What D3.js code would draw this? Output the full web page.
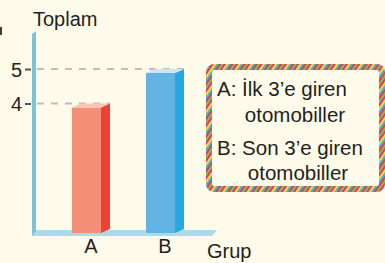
<!DOCTYPE html>
<html lang="tr">
<head>
<meta charset="UTF-8">
<title>Toplam - Grup</title>
<script src="https://d3js.org/d3.v7.min.js"></script>
<style>
  html, body { margin: 0; padding: 0; background: #fffbea; }
  svg text { font-family: "Liberation Sans", Arial, sans-serif; fill: #231f20; }
</style>
</head>
<body>
<svg width="385" height="263"></svg>
<script>
// veriler
const categories = ["A", "B"];
const values = [4, 5];
const yTicks = [4, 5];
const legendLines = ["A: İlk 3’e giren", "otomobiller", "B: Son 3’e giren", "otomobiller"];

const frontColors = ["#f48f78", "#63b3e3"];
const sideColors = ["#ee4035", "#25a8e0"];
const topColors = ["#f9c6b8", "#cde6f5"];

const svg = d3.select("svg");
const baseY = 233;

const x = d3.scaleBand().domain(categories).range([72, 175]).paddingInner(0.608).paddingOuter(0);
const y = d3.scaleLinear().domain([0, 5]).range([241.5, 69]);
const depthX = 9, depthY = 4;

// stray glyph stroke at the left edge (from cropped page)
svg.append("rect").attr("x", 0).attr("y", 27).attr("width", 2).attr("height", 8).attr("fill", "#3a3a3a");

// dashed guide lines
svg.append("g").selectAll("line")
  .data(yTicks)
  .join("line")
  .attr("x1", 37)
  .attr("x2", (d, i) => x(categories[i]) + x.bandwidth() + depthX)
  .attr("y1", d => y(d)).attr("y2", d => y(d))
  .attr("stroke", "#bdbdbd").attr("stroke-width", 2)
  .attr("stroke-dasharray", "7,7");

// y axis ticks
const yAxis = svg.append("g").attr("transform", "translate(31,0)")
  .call(d3.axisLeft(y).tickValues(yTicks).tickSize(6).tickPadding(3).tickFormat(d3.format("d")));
yAxis.select(".domain").remove();
yAxis.selectAll(".tick line").attr("stroke", "#555").attr("stroke-width", 2);
yAxis.selectAll(".tick text").style("font-size", "20px").attr("fill", "#231f20").attr("dy", "0.36em");

// axis bars (3D look)
svg.append("polygon")
  .attr("points", "32,236 36,230 217,230 212,236")
  .attr("fill", "#a9dbea");
svg.append("polygon")
  .attr("points", "32,34 36,31 36,231 32,236")
  .attr("fill", "#78c4db");

// bars
const bars = svg.append("g").selectAll("g")
  .data(values)
  .join("g");

bars.append("rect")
  .attr("x", (d, i) => x(categories[i]))
  .attr("y", d => y(d) + depthY)
  .attr("width", x.bandwidth())
  .attr("height", d => baseY - y(d) - depthY)
  .attr("fill", (d, i) => frontColors[i]);

bars.append("polygon")
  .attr("points", (d, i) => {
    const x1 = x(categories[i]) + x.bandwidth();
    const t = y(d);
    return [[x1, t + depthY], [x1 + depthX, t], [x1 + depthX, baseY - depthY], [x1, baseY]].join(" ");
  })
  .attr("fill", (d, i) => sideColors[i]);

bars.append("polygon")
  .attr("points", (d, i) => {
    const x0 = x(categories[i]);
    const x1 = x0 + x.bandwidth();
    const t = y(d);
    return [[x0, t + depthY], [x0 + depthX, t], [x1 + depthX, t], [x1, t + depthY]].join(" ");
  })
  .attr("fill", (d, i) => topColors[i]);

// category labels
svg.append("g").selectAll("text")
  .data(categories)
  .join("text")
  .attr("x", d => x(d) + (x.bandwidth() + depthX) / 2)
  .attr("y", 253)
  .attr("text-anchor", "middle")
  .style("font-size", "20px")
  .text(d => d);

// axis titles
svg.append("text").attr("x", 33).attr("y", 26).style("font-size", "20px").text("Toplam");
svg.append("text").attr("x", 207).attr("y", 258).style("font-size", "20px").text("Grup");

// legend box with colourful border
const defs = svg.append("defs");
const pat = defs.append("pattern")
  .attr("id", "confetti").attr("patternUnits", "userSpaceOnUse")
  .attr("width", 10).attr("height", 10)
  .attr("patternTransform", "rotate(35)");
const stripeColors = ["#ec2f8c", "#f7e51f", "#3fb5e6", "#e83a55", "#7cc244"];
stripeColors.forEach((c, i) => {
  pat.append("rect").attr("x", i * 2).attr("y", 0).attr("width", 2).attr("height", 10).attr("fill", c);
});

svg.append("rect")
  .attr("x", 209).attr("y", 67).attr("width", 173).attr("height", 122)
  .attr("rx", 5)
  .attr("fill", "#fffbea")
  .attr("stroke", "url(#confetti)").attr("stroke-width", 6);

const legendPos = [[217, 96, "start"], [295, 122, "middle"], [217, 155, "start"], [298, 180, "middle"]];
svg.append("g").selectAll("text")
  .data(legendLines)
  .join("text")
  .attr("x", (d, i) => legendPos[i][0])
  .attr("y", (d, i) => legendPos[i][1])
  .attr("text-anchor", (d, i) => legendPos[i][2])
  .style("font-size", "20.5px")
  .text(d => d);
</script>
</body>
</html>
